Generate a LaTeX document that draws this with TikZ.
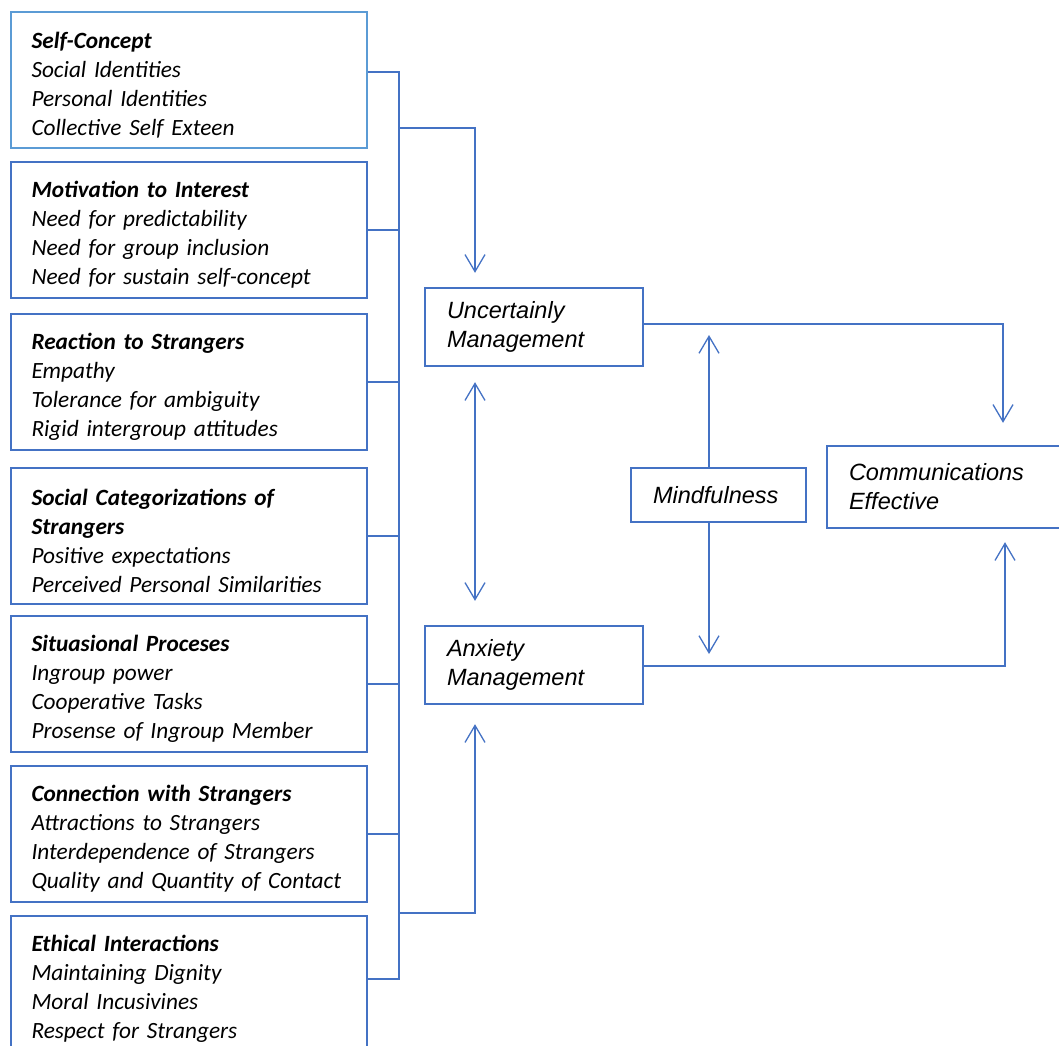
\documentclass[tikz,border=0pt]{standalone}
\usepackage{fontspec}
\setmainfont{Carlito}
\newfontfamily\arialfont{Liberation Sans}
\usetikzlibrary{arrows.meta}

\definecolor{boxblue}{HTML}{4472C4}
\definecolor{lightblue}{HTML}{5B9BD5}

\tikzset{
  factor/.style={draw=boxblue, line width=2.3pt, minimum height=136pt, text width=315pt,
    inner xsep=20.5pt, align=left, font=\fontsize{23.3}{29}\selectfont\itshape,
    execute at begin node=\rule{0pt}{26pt}},
  stage/.style={draw=boxblue, line width=2.3pt, inner xsep=22pt, align=left,
    font=\arialfont\fontsize{23.5}{29}\selectfont\itshape},
  link/.style={draw=boxblue, line width=1.3pt},
  >={Straight Barb[length=17pt,width=20pt]}
}

\begin{document}
\begin{tikzpicture}[x=1pt,y=-1pt]
	\useasboundingbox (0,0) rectangle (1059,1045);

	% Factors on the left
	\node[factor, draw=lightblue] (sc) at (189,80) {\textbf{Self-Concept}\\Social Identities\\Personal Identities\\Collective Self Exteen};
	\node[factor] (mi) at (189,230) {\textbf{Motivation to Interest}\\Need for predictability\\Need for group inclusion\\Need for sustain self-concept};
	\node[factor] (rs) at (189,382) {\textbf{Reaction to Strangers}\\Empathy\\Tolerance for ambiguity\\Rigid intergroup attitudes};
	\node[factor] (sct) at (189,536) {\textbf{Social Categorizations of}\\\textbf{Strangers}\\Positive expectations\\Perceived Personal Similarities};
	\node[factor] (sp) at (189,684) {\textbf{Situasional Proceses}\\Ingroup power\\Cooperative Tasks\\Prosense of Ingroup Member};
	\node[factor] (cs) at (189,834) {\textbf{Connection with Strangers}\\Attractions to Strangers\\Interdependence of Strangers\\Quality and Quantity of Contact};
	\node[factor] (ei) at (189,984) {\textbf{Ethical Interactions}\\Maintaining Dignity\\Moral Incusivines\\Respect for Strangers};

	% Middle and right boxes
	\node[stage, minimum height=78pt, text width=174pt] (um) at (534,327) {Uncertainly\\Management};
	\node[stage, minimum height=78pt, text width=174pt] (am) at (534,665) {Anxiety\\Management};
	\node[stage, minimum height=54pt, text width=131pt] (mf) at (718.5,495) {Mindfulness};
	\node[stage, minimum height=82pt, text width=204pt] (ce) at (951,487) {Communications\\Effective};

	% Bus from the factors
	\coordinate (busTop) at (399,72);
	\coordinate (busBot) at (399,979);
	\coordinate (upTurn) at (475,128);
	\coordinate (lowTurn) at (475,913);
	\draw[link] ([yshift=8pt]sc.east) -- (busTop) -- (busBot) -- ([yshift=5pt]ei.east);
	\foreach \b in {mi,rs,sct,sp,cs}
		\draw[link] (\b.east) -- (\b.east -| busTop);

	% Into the two managements
	\draw[link,->] (busTop |- upTurn) -- (upTurn) -- ([yshift=14pt]um.north -| upTurn);
	\draw[link,->] (busTop |- lowTurn) -- (lowTurn) -- ([yshift=-19pt]am.south -| lowTurn);
	\draw[link,<->] ([yshift=-15pt]um.south -| upTurn) -- ([yshift=24pt]am.north -| upTurn);

	% Mindfulness
	\coordinate (mfUp) at (709,335);
	\coordinate (mfDown) at (709,654);
	\draw[link,->] (mf.north -| mfUp) -- (mfUp);
	\draw[link,->] (mf.south -| mfDown) -- (mfDown);

	% Towards effective communication
	\coordinate (ucTurn) at (1003,324);
	\coordinate (acTurn) at (1005,666);
	\draw[link,->] (um.east |- ucTurn) -- (ucTurn) -- ([yshift=22pt]ce.north -| ucTurn);
	\draw[link,->] (am.east |- acTurn) -- (acTurn) -- ([yshift=-13pt]ce.south -| acTurn);

\end{tikzpicture}
\end{document}
